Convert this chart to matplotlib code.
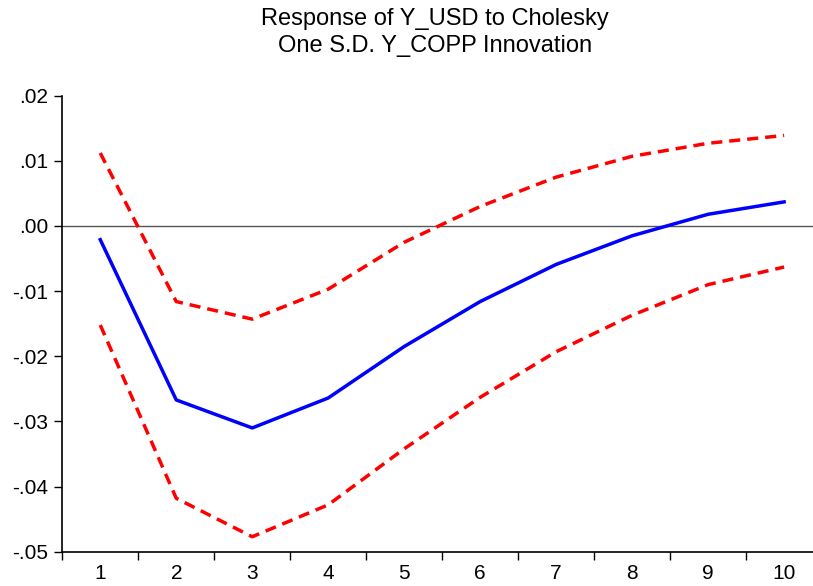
import matplotlib.pyplot as plt
from matplotlib.ticker import FixedLocator, NullFormatter

plt.rcParams['font.family'] = ['Liberation Sans', 'DejaVu Sans']

periods = [1, 2, 3, 4, 5, 6, 7, 8, 9, 10]
response = [-0.0021, -0.0267, -0.0310, -0.0264, -0.0185, -0.0116, -0.0059, -0.0015, 0.0018, 0.0037]
upper = [0.0112, -0.0116, -0.0143, -0.0097, -0.0025, 0.0030, 0.0075, 0.0107, 0.0127, 0.0139]
lower = [-0.0152, -0.0418, -0.0477, -0.0428, -0.0342, -0.0263, -0.0193, -0.0137, -0.0090, -0.0063]
ytick_vals = [0.02, 0.01, 0.00, -0.01, -0.02, -0.03, -0.04, -0.05]
ytick_labels = ['.02', '.01', '.00', '-.01', '-.02', '-.03', '-.04', '-.05']

fig = plt.figure(figsize=(8.13, 5.86), dpi=100)
ax = fig.add_axes([0.0766, 0.0585, 0.9234, 0.7782])

ax.axhline(0, color='#555555', lw=1.0, zorder=1)
ax.plot(periods, upper, color='red', lw=2.5, dashes=(3.2, 2.0), zorder=2)
ax.plot(periods, lower, color='red', lw=2.5, dashes=(3.2, 2.0), zorder=2)
ax.plot(periods, response, color='blue', lw=2.5, zorder=3)

ax.set_xlim(0.5, 10.38)
ax.set_ylim(-0.05, 0.02)

# ticks between periods, labels on the periods
ax.xaxis.set_major_locator(FixedLocator([p - 0.5 for p in periods]))
ax.xaxis.set_major_formatter(NullFormatter())
ax.xaxis.set_minor_locator(FixedLocator(periods))
ax.set_xticklabels([str(p) for p in periods], minor=True)
ax.tick_params(axis='x', which='major', length=6, width=1, direction='out')
ax.tick_params(axis='x', which='minor', length=0, pad=9, labelsize=15)

ax.set_yticks(ytick_vals)
ax.set_yticklabels(ytick_labels)
ax.tick_params(axis='y', length=6, width=1, direction='out', labelsize=15, pad=4)

ax.spines['top'].set_visible(False)
ax.spines['right'].set_visible(False)
ax.spines['left'].set_linewidth(1.2)
ax.spines['bottom'].set_linewidth(1.2)

fig.text(0.535, 0.986, 'Response of Y_USD to Cholesky\nOne S.D. Y_COPP Innovation',
         ha='center', va='top', fontsize=17, linespacing=1.28)

fig.savefig('out.png', dpi=100)
